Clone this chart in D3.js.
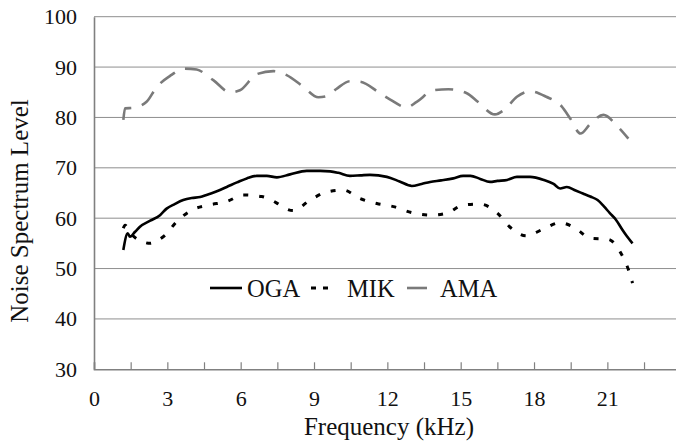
<!DOCTYPE html>
<html lang="en">
<head>
<meta charset="utf-8">
<title>Noise Spectrum Level</title>
<style>
  body { margin: 0; background: #fff; }
  svg { display: block; font-family: "Liberation Serif", Tinos, "DejaVu Serif", "Noto Serif", Times, serif; }
</style>
</head>
<body>
<svg width="676" height="444"></svg>
<script src="https://d3js.org/d3.v7.min.js"></script>
<script>
// values (kHz, level)
var ogaFreq = [1.2,1.38,1.47,1.68,1.88,2.3,2.7,2.97,3.3,3.65,4.0,4.34,4.6,5.0,5.43,5.85,6.25,6.66,7.07,7.48,8.02,8.7,9.25,9.66,10.0,10.47,10.9,11.29,11.98,12.5,13.0,13.4,13.75,14.2,14.7,15.1,15.4,15.8,16.2,16.5,16.9,17.3,17.84,18.4,18.8,19.07,19.34,19.7,20.0,20.3,20.6,20.85,21.1,21.35,21.6,21.8,22.03];
var ogaLevel = [53.7,57.0,56.3,57.3,58.3,59.5,60.6,61.9,62.8,63.6,64.0,64.2,64.6,65.3,66.2,67.1,67.9,68.4,68.4,68.1,68.7,69.4,69.4,69.3,69.0,68.4,68.5,68.6,68.2,67.3,66.4,66.8,67.2,67.5,67.9,68.4,68.4,67.8,67.2,67.4,67.6,68.2,68.2,67.6,66.8,65.9,66.2,65.5,64.9,64.3,63.6,62.4,61.0,59.7,57.8,56.4,55.0];

var mikFreq = [1.2,1.27,1.5,2.0,2.3,2.6,2.9,3.38,4.0,4.68,5.43,6.11,6.86,7.48,7.8,8.15,8.84,9.52,10.2,10.88,11.57,12.25,13.0,13.75,14.43,15.1,15.8,16.5,17.0,17.68,18.36,19.07,19.7,20.3,21.04,21.55,21.86,22.03];
var mikLevel = [58.0,58.6,57.0,55.3,55.0,55.6,56.6,59.3,61.6,62.6,63.3,64.6,64.3,63.0,62.0,61.5,63.6,65.2,65.6,63.9,62.9,62.3,61.1,60.6,61.0,62.6,62.8,61.0,58.3,56.5,57.8,59.1,58.0,56.0,55.8,53.1,49.8,47.1];

var amaFreq = [1.2,1.27,1.6,2.15,2.56,3.1,3.72,4.2,4.88,5.56,5.97,6.66,7.34,7.88,8.56,9.18,9.5,9.9,10.47,10.88,11.7,12.1,12.8,13.2,13.9,14.5,15.25,15.7,16.4,16.8,17.3,17.84,18.5,19.13,19.48,19.9,20.3,20.84,21.4,21.86];
var amaLevel = [79.5,81.8,81.9,83.1,86.0,88.2,89.7,89.5,87.4,85.0,85.4,88.6,89.2,88.4,86.1,84.0,84.2,85.6,87.2,87.1,84.8,83.6,82.0,83.1,85.4,85.6,84.8,83.1,80.6,81.6,84.1,85.2,84.1,82.2,79.8,76.8,78.7,80.5,78.3,75.8];

var xTicks = [0, 3, 6, 9, 12, 15, 18, 21];
var yTicks = [30, 40, 50, 60, 70, 80, 90, 100];

var series = [
  {name: "OGA", freq: ogaFreq, level: ogaLevel, color: "#000", width: 2.6, dash: null},
  {name: "MIK", freq: mikFreq, level: mikLevel, color: "#000", width: 3, dash: "5,11"},
  {name: "AMA", freq: amaFreq, level: amaLevel, color: "#7a7a7a", width: 2.6, dash: "18,11"}
];

var serif = "'Liberation Serif', Tinos, 'DejaVu Serif', 'Noto Serif', Times, serif";
var svg = d3.select("svg");

var x = d3.scaleLinear().domain([0, 24]).range([94, 680.7]);
var y = d3.scaleLinear().domain([30, 100]).range([369.3, 16.7]);

// gridlines
svg.append("g")
  .selectAll("line")
  .data(yTicks.filter(function(d) { return d > 30; }))
  .join("line")
    .attr("x1", x(0))
    .attr("x2", x(24))
    .attr("y1", function(d) { return y(d); })
    .attr("y2", function(d) { return y(d); })
    .attr("stroke", "#8e8e8e")
    .attr("stroke-width", 1);

// x axis: ticks every 1.5 kHz pointing up, labels every 3
var xAxis = svg.append("g")
  .attr("transform", "translate(0," + y(30) + ")")
  .call(d3.axisBottom(x)
    .tickValues(d3.range(1.5, 24, 1.5).concat([0]))
    .tickSize(-7)
    .tickFormat(function(d) { return xTicks.indexOf(d) >= 0 ? d : ""; }));
xAxis.attr("font-family", null).attr("font-size", null);
xAxis.select(".domain").attr("stroke", "#808080").attr("stroke-width", 1.6);
xAxis.selectAll(".tick line").attr("stroke", "#808080").attr("stroke-width", 1.2);
xAxis.selectAll(".tick text")
  .attr("y", 37).attr("dy", 0)
  .attr("fill", "#111")
  .style("font-family", serif)
  .style("font-size", "22px");

// y axis
var yAxis = svg.append("g")
  .attr("transform", "translate(" + x(0) + ",0)")
  .call(d3.axisLeft(y).tickValues(yTicks).tickSize(0).tickPadding(17));
yAxis.attr("font-family", null).attr("font-size", null);
yAxis.select(".domain").attr("stroke", "#808080").attr("stroke-width", 1.6);
yAxis.selectAll(".tick text")
  .attr("fill", "#111")
  .style("font-family", serif)
  .style("font-size", "22px");

// axis titles
svg.append("text")
  .attr("x", 389)
  .attr("y", 434.5)
  .attr("text-anchor", "middle")
  .attr("fill", "#111")
  .style("font-family", serif)
  .style("font-size", "25px")
  .text("Frequency (kHz)");

svg.append("text")
  .attr("transform", "translate(28,211) rotate(-90)")
  .attr("text-anchor", "middle")
  .attr("fill", "#111")
  .style("font-family", serif)
  .style("font-size", "25px")
  .text("Noise Spectrum Level");

// lines
var line = d3.line()
  .x(function(d) { return x(d[0]); })
  .y(function(d) { return y(d[1]); })
  .curve(d3.curveMonotoneX);

series.forEach(function(s) {
  svg.append("path")
    .datum(d3.zip(s.freq, s.level))
    .attr("fill", "none")
    .attr("stroke", s.color)
    .attr("stroke-width", s.width)
    .attr("stroke-dasharray", s.dash)
    .attr("stroke-linejoin", "round")
    .attr("d", line);
});

// legend
var legendItems = [
  {x1: 210, x2: 242, tx: 247},
  {x1: 311, x2: 328, tx: 347},
  {x1: 407, x2: 427, tx: 440}
];
var legend = svg.append("g");
series.forEach(function(s, i) {
  var it = legendItems[i];
  legend.append("line")
    .attr("x1", it.x1).attr("x2", it.x2)
    .attr("y1", 288).attr("y2", 288)
    .attr("stroke", s.color)
    .attr("stroke-width", s.width)
    .attr("stroke-dasharray", s.name === "MIK" ? "5,7" : null);
  legend.append("text")
    .attr("x", it.tx)
    .attr("y", 296.5)
    .attr("fill", "#111")
    .style("font-family", serif)
    .style("font-size", "24.5px")
    .text(s.name);
});
</script>
</body>
</html>
